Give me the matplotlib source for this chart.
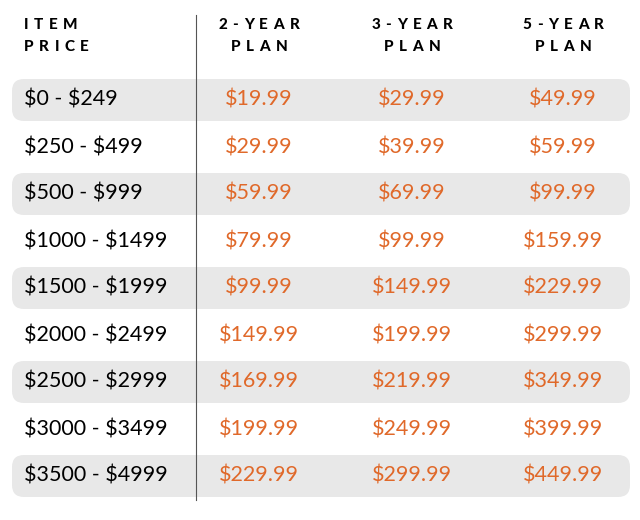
import matplotlib.pyplot as plt
from matplotlib.patches import FancyBboxPatch

plt.rcParams["text.parse_math"] = False

price_ranges = ["$0 - $249", "$250 - $499", "$500 - $999", "$1000 - $1499",
                "$1500 - $1999", "$2000 - $2499", "$2500 - $2999",
                "$3000 - $3499", "$3500 - $4999"]
plan_2yr = ["$19.99", "$29.99", "$59.99", "$79.99", "$99.99",
            "$149.99", "$169.99", "$199.99", "$229.99"]
plan_3yr = ["$29.99", "$39.99", "$69.99", "$99.99", "$149.99",
            "$199.99", "$219.99", "$249.99", "$299.99"]
plan_5yr = ["$49.99", "$59.99", "$99.99", "$159.99", "$229.99",
            "$299.99", "$349.99", "$399.99", "$449.99"]
headers = [["ITEM", "PRICE"], ["2-YEAR", "PLAN"], ["3-YEAR", "PLAN"], ["5-YEAR", "PLAN"]]

orange = "#e0692a"
font = "Lato"

fig = plt.figure(figsize=(6.4, 5.2), dpi=100)
ax = fig.add_axes([0, 0, 1, 1])
ax.set_xlim(0, 640)
ax.set_ylim(520, 0)
ax.axis("off")
renderer = fig.canvas.get_renderer()

col_x = [259, 412, 563]
row0, step = 100, 47
track = 5.5


def char_w(ch):
    t = ax.text(0, 0, ch, fontsize=11, fontweight="black", family=font)
    w = t.get_window_extent(renderer).width
    t.remove()
    return w


def spaced(x, y, s, align):
    # letter-spaced header text, drawn char by char
    widths = [char_w(ch) for ch in s]
    total = sum(widths) + track * (len(s) - 1)
    start = x if align == "left" else x - total / 2
    for ch, w in zip(s, widths):
        ax.text(start, y, ch, fontsize=11, fontweight="black", family=font,
                ha="left", va="center", color="black")
        start += w + track


for i, (a, b) in enumerate(headers):
    if i == 0:
        spaced(24, 25, a, "left")
        spaced(24, 47, b, "left")
    else:
        spaced(col_x[i - 1], 25, a, "center")
        spaced(col_x[i - 1], 47, b, "center")

for i, pr in enumerate(price_ranges):
    y = row0 + i * step
    if i % 2 == 0:
        ax.add_patch(FancyBboxPatch((12, y - 21), 618, 42,
                                    boxstyle="round,pad=0,rounding_size=12",
                                    fc="#e8e8e8", ec="none", zorder=0))
    ax.text(24, y, pr, fontsize=15.5, family=font, va="center", ha="left", color="black")
    for cx, vals in zip(col_x, [plan_2yr, plan_3yr, plan_5yr]):
        ax.text(cx, y, vals[i], fontsize=15.5, family=font, va="center",
                ha="center", color=orange)

ax.plot([196, 196], [15, 500], color="#555555", lw=0.8, zorder=3)

fig.savefig("out.png", dpi=100)
